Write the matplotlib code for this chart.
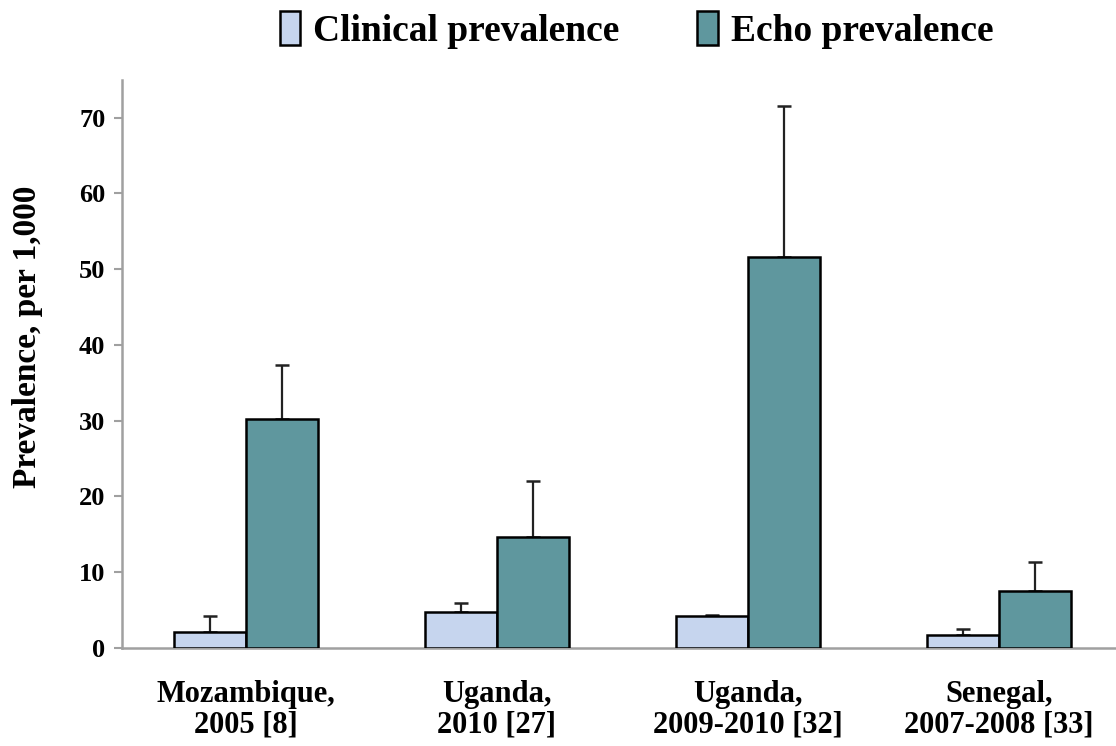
import matplotlib
matplotlib.use("Agg")
import matplotlib.pyplot as plt
import numpy as np

categories = ["Mozambique,\n2005 [8]", "Uganda,\n2010 [27]", "Uganda,\n2009-2010 [32]", "Senegal,\n2007-2008 [33]"]
clinical = [2.15, 4.8, 4.2, 1.65]
clinical_upper = [4.2, 5.9, 4.4, 2.55]
echo = [30.2, 14.7, 51.55, 7.5]
echo_upper = [37.4, 22.1, 71.6, 11.4]
series_names = ["Clinical prevalence", "Echo prevalence"]
yticks = [0, 10, 20, 30, 40, 50, 60, 70]

plt.rcParams['font.family'] = ['Liberation Serif', 'DejaVu Serif']
plt.rcParams['font.weight'] = 'bold'

fig = plt.figure(figsize=(11.16, 7.46), dpi=100)
ax = fig.add_axes([0.1093, 0.1314, 0.8907, 0.7616])

x = np.arange(len(categories))
w = 0.287
c_clin = "#C6D5EE"
c_echo = "#5F979E"

clin_err = np.array(clinical_upper) - np.array(clinical)
echo_err = np.array(echo_upper) - np.array(echo)

b1 = ax.bar(x - w/2, clinical, w, color=c_clin, edgecolor="black", linewidth=1.8,
            label=series_names[0], zorder=3)
b2 = ax.bar(x + w/2, echo, w, color=c_echo, edgecolor="black", linewidth=1.8,
            label=series_names[1], zorder=3)
ax.errorbar(x - w/2, clinical, yerr=[np.zeros_like(clin_err), clin_err], fmt='none',
            ecolor="#222222", elinewidth=1.6, capsize=4.7, capthick=1.8, zorder=2)
ax.errorbar(x + w/2, echo, yerr=[np.zeros_like(echo_err), echo_err], fmt='none',
            ecolor="#222222", elinewidth=1.6, capsize=4.7, capthick=1.8, zorder=2)

ax.set_xlim(-0.494, 3.466)
ax.set_ylim(0, 75)
ax.set_yticks(yticks)
ax.set_yticklabels([str(t) for t in yticks], fontsize=19, fontweight='bold')
ax.set_xticks(x)
ax.set_xticklabels(categories, fontsize=22, fontweight='bold', linespacing=1.08)
ax.tick_params(axis='x', length=0, pad=23)
ax.tick_params(axis='y', length=6, width=1.5, color="#A0A0A0", pad=6)
for s in ["top", "right"]:
    ax.spines[s].set_visible(False)
for s in ["left", "bottom"]:
    ax.spines[s].set_color("#A0A0A0")
    ax.spines[s].set_linewidth(1.8)
ax.set_ylabel("Prevalence, per 1,000", fontsize=24, fontweight='bold')
ax.yaxis.set_label_coords(-0.079, 0.5475)

fig.legend(handles=[b1, b2], labels=series_names, loc="upper center",
           bbox_to_anchor=(0.5704, 1.03), ncol=2, frameon=False,
           prop={'size': 27, 'weight': 'bold'}, handlelength=0.55, handleheight=1.0,
           handletextpad=0.35, columnspacing=2.06)

fig.savefig("out.png", dpi=100)
